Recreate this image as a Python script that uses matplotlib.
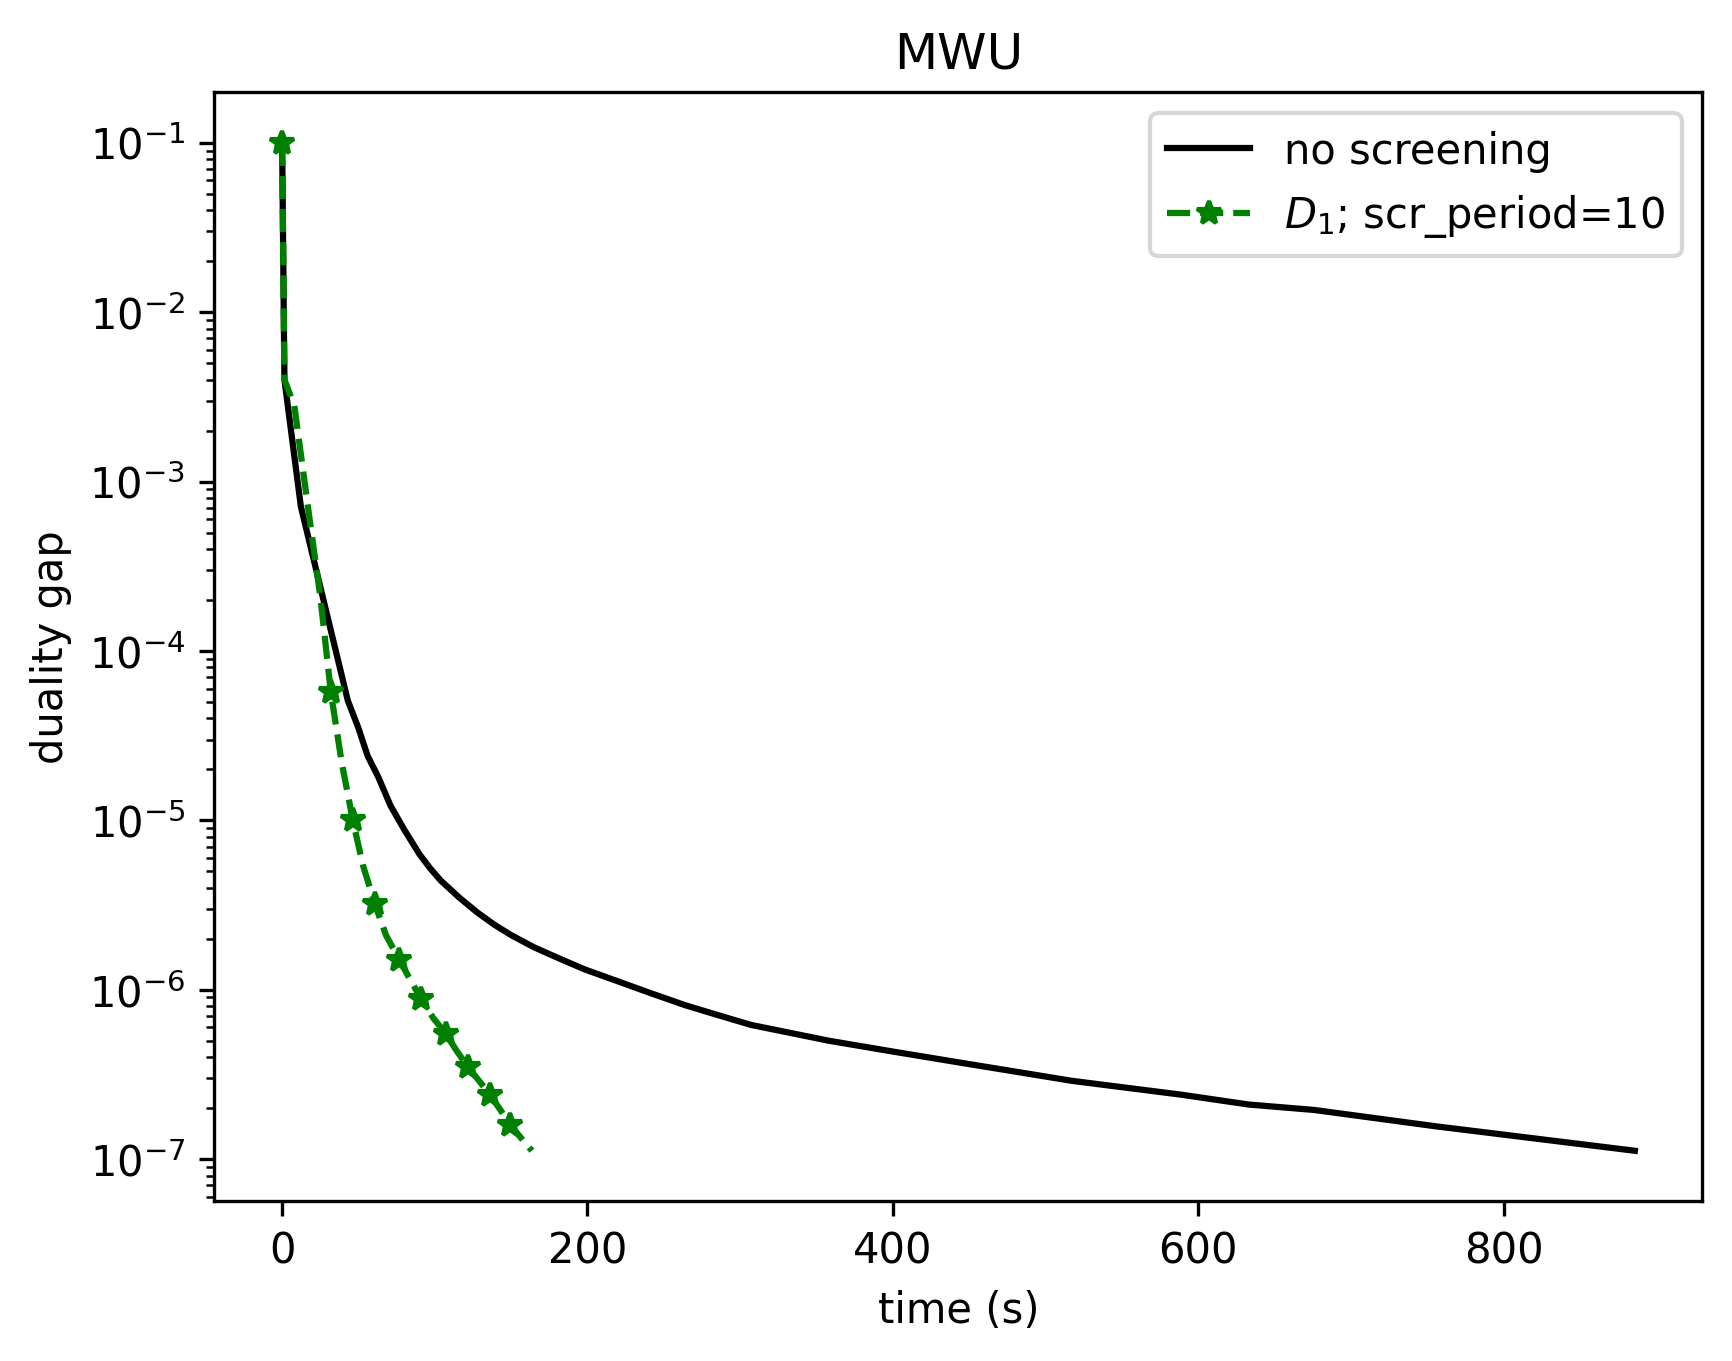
import matplotlib
matplotlib.use('Agg')
import matplotlib.pyplot as plt
import numpy as np

# no screening run (time in s, duality gap)
t_noscr = [0, 1.5, 12.3, 43, 50, 56, 63, 71, 80, 90, 97, 104, 116, 128, 139, 150, 165, 180,
           198, 220, 242, 264, 285, 307, 358, 401, 445, 488, 517, 589, 633, 676, 756, 886]
gap_noscr = [0.1, 4.0e-3, 7.1e-4, 5.1e-5, 3.5e-5, 2.4e-5, 1.8e-5, 1.22e-5, 8.8e-6, 6.3e-6,
             5.2e-6, 4.4e-6, 3.5e-6, 2.85e-6, 2.42e-6, 2.1e-6, 1.78e-6, 1.55e-6, 1.32e-6,
             1.12e-6, 9.5e-7, 8.1e-7, 7.1e-7, 6.2e-7, 5.0e-7, 4.3e-7, 3.7e-7, 3.2e-7, 2.9e-7,
             2.4e-7, 2.1e-7, 1.95e-7, 1.56e-7, 1.12e-7]

# D1 screening, scr_period=10
t_scr = [0, 1.5, 8, 18, 25, 31.9, 39, 46.3, 53, 60.8, 68, 76.8, 84, 91.2, 99, 107.2,
         114, 121.6, 129, 136.1, 143, 149.2, 156, 163.6]
gap_scr = [0.1, 4.0e-3, 2.8e-3, 6.0e-4, 2.1e-4, 5.7e-5, 2.2e-5, 1.0e-5, 5.4e-6, 3.2e-6,
           2.1e-6, 1.5e-6, 1.14e-6, 8.8e-7, 6.8e-7, 5.5e-7, 4.4e-7, 3.5e-7, 2.9e-7, 2.4e-7,
           1.95e-7, 1.6e-7, 1.35e-7, 1.12e-7]
screen_idx = [0, 5, 7, 9, 11, 13, 15, 17, 19, 21]

fig, ax = plt.subplots(figsize=(6.4, 4.8))
ax.plot(t_noscr, gap_noscr, color='k', label='no screening')
ax.plot(t_scr, gap_scr, '--', color='green', marker='*', markevery=screen_idx,
        label='$D_1$; scr_period=10')
ax.set_yscale('log')
ax.set_xlabel('time (s)')
ax.set_ylabel('duality gap')
ax.set_title('MWU')
ax.legend(loc='upper right')
plt.savefig('out.png', dpi=300, bbox_inches='tight')
